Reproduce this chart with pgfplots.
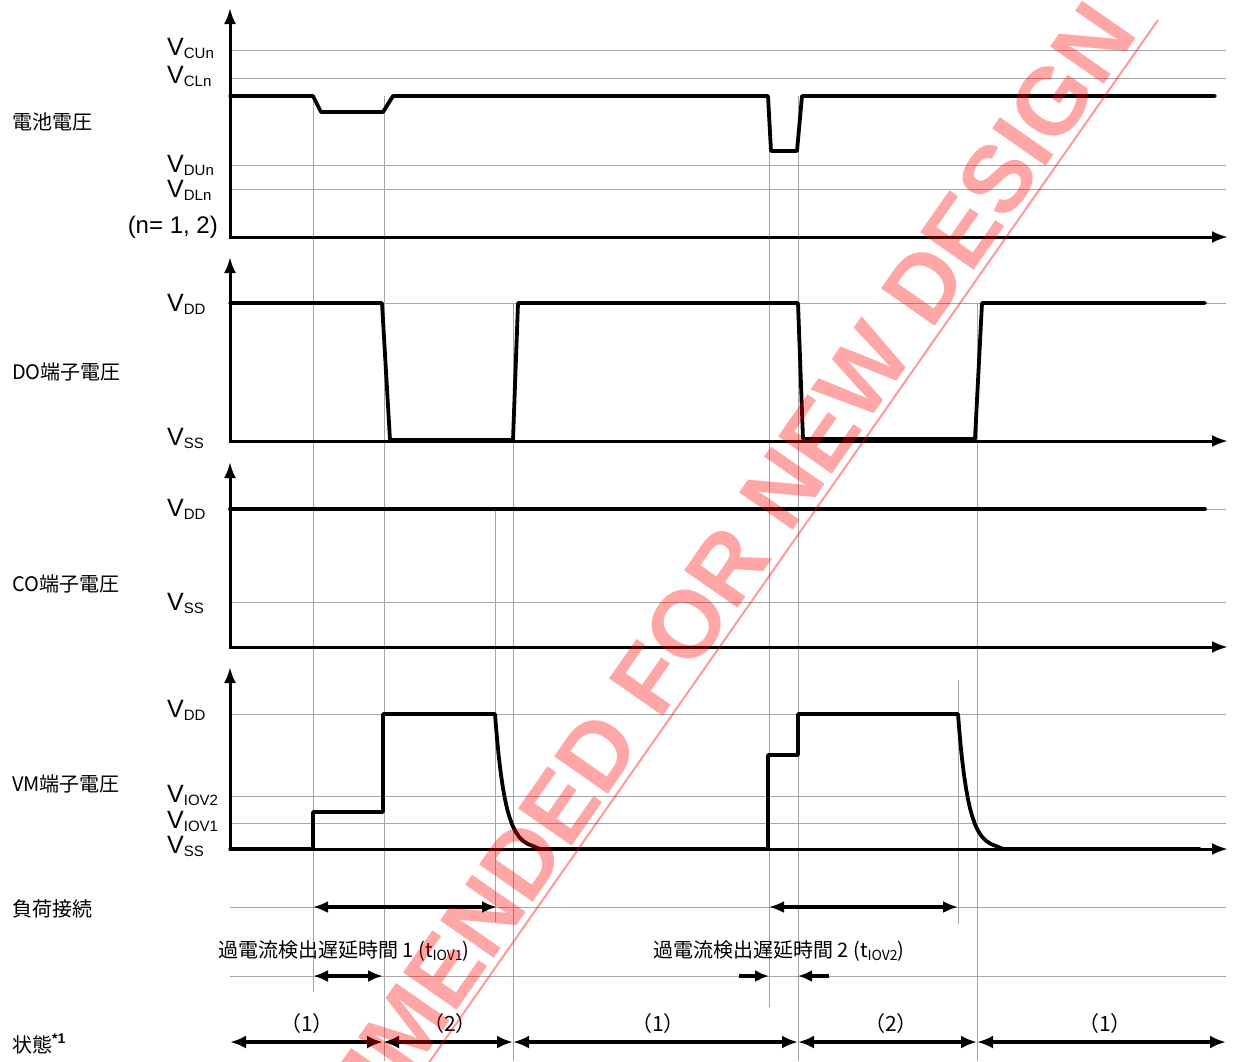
\documentclass[border=0pt]{standalone}
\usepackage{fontspec}
\setmainfont{Liberation Sans}
\newfontfamily\jp{Noto Sans CJK JP}
\usepackage{pgfplots}
\pgfplotsset{compat=1.18}
\usetikzlibrary{arrows.meta}
\newcommand{\Vl}[1]{{\fontsize{25}{25}\selectfont V\raisebox{-3pt}{\fontsize{15}{15}\selectfont #1}}}
\tikzset{
  sig/.style={black, line width=3.8pt, line join=round, line cap=round},
  grd/.style={color=black!35, line width=1pt},
  ax/.style={black, line width=3pt, -{Latex[length=16pt,width=12pt]}},
  darr/.style={black, line width=4pt, {Latex[length=15pt,width=12pt]}-{Latex[length=15pt,width=12pt]}},
  sarr/.style={black, line width=4.5pt, {Latex[length=16pt,width=13pt]}-{Latex[length=16pt,width=13pt]}},
  rarr/.style={black, line width=4pt, -{Latex[length=14pt,width=12pt]}},
  jl/.style={font=\jp\fontsize{20}{20}\selectfont, inner sep=0pt},
}
\begin{document}
\begin{tikzpicture}
\begin{axis}[at={(0,0)}, anchor=south west, scale only axis, width=1234pt, height=1061pt,
  xmin=0, xmax=1234, ymin=0, ymax=1061, y dir=reverse, hide axis, clip=false]
% ---------- grey guide lines (horizontal)
\addplot[grd] coordinates {(230,50) (1226,50)};
\addplot[grd] coordinates {(230,78) (1226,78)};
\addplot[grd] coordinates {(230,165) (1226,165)};
\addplot[grd] coordinates {(230,189) (1226,189)};
\addplot[grd] coordinates {(230,303) (1226,303)};
\addplot[grd] coordinates {(230,509) (1226,509)};
\addplot[grd] coordinates {(230,602) (1226,602)};
\addplot[grd] coordinates {(230,714) (1226,714)};
\addplot[grd] coordinates {(230,796) (1226,796)};
\addplot[grd] coordinates {(230,823) (1226,823)};
\addplot[grd] coordinates {(230,907) (1226,907)};
\addplot[grd] coordinates {(230,976) (1226,976)};
% ---------- grey guide lines (vertical)
\addplot[grd] coordinates {(313,96) (313,992)};
\addplot[grd] coordinates {(384,96) (384,1061)};
\addplot[grd] coordinates {(495,509) (495,922)};
\addplot[grd] coordinates {(513,303) (513,1061)};
\addplot[grd] coordinates {(769,96) (769,1007)};
\addplot[grd] coordinates {(798,96) (798,1061)};
\addplot[grd] coordinates {(958,680) (958,924)};
\addplot[grd] coordinates {(977,303) (977,1061)};
% ---------- axes
\addplot[ax] coordinates {(230,238) (230,8)};
\addplot[ax] coordinates {(229,237) (1228,237)};
\addplot[ax] coordinates {(230,442) (230,257)};
\addplot[ax] coordinates {(229,441) (1228,441)};
\addplot[ax] coordinates {(230,648) (230,462)};
\addplot[ax] coordinates {(229,647) (1228,647)};
\addplot[ax] coordinates {(230,850) (230,667)};
\addplot[ax] coordinates {(229,849) (1228,849)};
% ---------- signals
\addplot[sig] coordinates {(230,96) (313,96) (321,112) (383,112) (393,96) (768,96) (771,151) (797,151) (802,96) (1215,96)};
\addplot[sig] coordinates {(230,303) (382,303) (390,440) (513,440) (518,303) (798,303) (803,439) (975,439) (982,303) (1205,303)};
\addplot[sig] coordinates {(230,509) (1205,509)};
\addplot[sig] coordinates {(230,849) (313,849) (313,812) (383,812) (383,714) (495,714)
 (496,726.8) (497,738.5) (498,749) (499,758.5) (501,774.9) (503,788.3) (505,799.3) (507,808.3) (509,815.7)
 (512,824.3) (515,830.7) (519,836.8) (523,840.8) (528,844) (533,846) (540,849)
 (768,849) (768,755) (798,755) (798,714) (958,714)
 (959,726.8) (960,738.5) (961,749) (962,758.5) (964,774.9) (966,788.3) (968,799.3) (970,808.3) (972,815.7)
 (975,824.3) (978,830.7) (982,836.8) (986,840.8) (991,844) (996,846) (1003,849) (1200,849)};
% ---------- arrows
\addplot[darr] coordinates {(313,907) (497,907)};
\addplot[darr] coordinates {(769,907) (958,907)};
\addplot[darr] coordinates {(313,976) (383,976)};
\addplot[rarr] coordinates {(739,976) (769,976)};
\addplot[rarr] coordinates {(829,976) (798,976)};
\addplot[sarr] coordinates {(230,1042) (383,1042)};
\addplot[sarr] coordinates {(383,1042) (513,1042)};
\addplot[sarr] coordinates {(513,1042) (798,1042)};
\addplot[sarr] coordinates {(798,1042) (977,1042)};
\addplot[sarr] coordinates {(977,1042) (1226,1042)};
% ---------- left labels
\node[jl, anchor=west] at (axis cs:12,122) {電池電圧};
\node[jl, anchor=west] at (axis cs:12,372) {DO端子電圧};
\node[jl, anchor=west] at (axis cs:12,584) {CO端子電圧};
\node[jl, anchor=west] at (axis cs:12,784) {VM端子電圧};
\node[jl, anchor=west] at (axis cs:12,909) {負荷接続};
\node[jl, anchor=west] at (axis cs:12,1044) {状態\raisebox{9pt}{\fontsize{14}{14}\selectfont\rmfamily\bfseries *1}};
% ---------- level labels
\node[anchor=base west, inner sep=0pt] at (axis cs:167,55) {\Vl{CUn}};
\node[anchor=base west, inner sep=0pt] at (axis cs:167,83) {\Vl{CLn}};
\node[anchor=base west, inner sep=0pt] at (axis cs:167,172) {\Vl{DUn}};
\node[anchor=base west, inner sep=0pt] at (axis cs:167,197) {\Vl{DLn}};
\node[anchor=base east, inner sep=0pt, font=\fontsize{24}{24}\selectfont] at (axis cs:218,233) {(n= 1, 2)};
\node[anchor=base west, inner sep=0pt] at (axis cs:167,311) {\Vl{DD}};
\node[anchor=base west, inner sep=0pt] at (axis cs:167,445) {\Vl{SS}};
\node[anchor=base west, inner sep=0pt] at (axis cs:167,516) {\Vl{DD}};
\node[anchor=base west, inner sep=0pt] at (axis cs:167,610) {\Vl{SS}};
\node[anchor=base west, inner sep=0pt] at (axis cs:167,717) {\Vl{DD}};
\node[anchor=base west, inner sep=0pt] at (axis cs:167,802) {\Vl{IOV2}};
\node[anchor=base west, inner sep=0pt] at (axis cs:167,828) {\Vl{IOV1}};
\node[anchor=base west, inner sep=0pt] at (axis cs:167,853) {\Vl{SS}};
% ---------- delay-time labels
\node[jl, anchor=west] at (axis cs:218,951) {過電流検出遅延時間 1 (t\raisebox{-3pt}{\fontsize{14}{14}\selectfont IOV1})};
\node[jl, anchor=west] at (axis cs:653,951) {過電流検出遅延時間 2 (t\raisebox{-3pt}{\fontsize{14}{14}\selectfont IOV2})};
% ---------- state labels
\node[font=\jp\fontsize{21}{21}\selectfont] at (axis cs:307,1023) {（1）};
\node[font=\jp\fontsize{21}{21}\selectfont] at (axis cs:450,1023) {（2）};
\node[font=\jp\fontsize{21}{21}\selectfont] at (axis cs:658,1023) {（1）};
\node[font=\jp\fontsize{21}{21}\selectfont] at (axis cs:891,1023) {（2）};
\node[font=\jp\fontsize{21}{21}\selectfont] at (axis cs:1105,1023) {（1）};
% ---------- watermark
\addplot[red, opacity=0.4, line width=2pt] coordinates {(1158,20) (400,1104)};
\node[rotate=55.1, anchor=base, inner sep=0pt, text=red, text opacity=0.35,
  font=\fontsize{95}{95}\selectfont\bfseries] at (axis cs:608,795) {NOT RECOMMENDED FOR NEW DESIGN};
\end{axis}
\pgfresetboundingbox
\path[use as bounding box] (0,0) rectangle (1234pt,1061pt);
\end{tikzpicture}
\end{document}
